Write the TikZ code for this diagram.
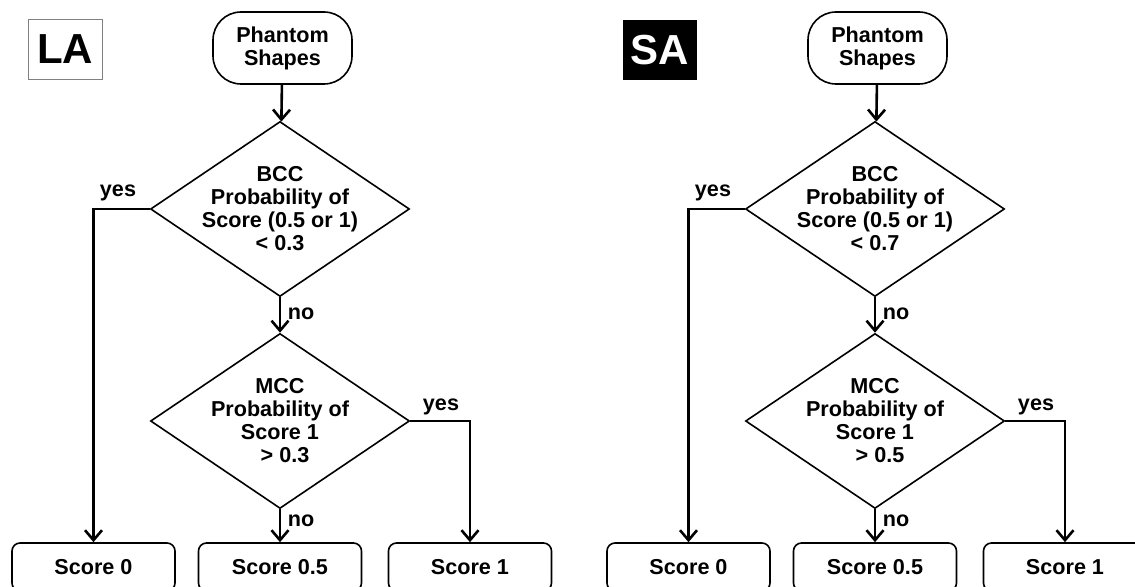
\documentclass[tikz,border=0pt]{standalone}
\usepackage{fontspec}
\setmainfont{Liberation Sans}
\usetikzlibrary{shapes.geometric,arrows.meta}

\tikzset{
  txt/.style={font=\fontsize{10.8}{11.5}\selectfont\bfseries},
  terminal/.style={txt, draw, rectangle, rounded corners=14pt, line width=0.8pt, minimum width=69.5pt, minimum height=36pt, align=center},
  decision/.style={draw, diamond, line width=0.8pt, inner sep=0pt, minimum width=129.5pt, minimum height=87.5pt},
  condtext/.style={txt, align=center},
  scorebox/.style={txt, draw, rectangle, rounded corners=4pt, line width=0.8pt, minimum width=81.5pt, minimum height=24pt},
  tagbox/.style={rectangle, minimum width=37pt, minimum height=30pt, font=\fontsize{21}{21}\selectfont\bfseries},
  link/.style={line width=1.3pt, -{Straight Barb[length=5pt,width=8.5pt,line width=1.3pt]}},
  ans/.style={txt}
}

\begin{document}
\begin{tikzpicture}[x=0.5pt,y=-0.5pt]
\useasboundingbox (0,0) rectangle (1135,587);
% LA
\node[tagbox, draw=gray, line width=0.5pt] (tagL) at (65,49.5) {LA};
\node[terminal] (phL) at (282.5,48) {Phantom\\Shapes};
\node[decision, label={[condtext]center:BCC\\Probability of\\Score (0.5 or 1)\\< 0.3}] (bccL) at (280,209) {};
\node[decision, label={[condtext]center:MCC\\Probability of\\Score 1\\\hspace*{5pt}> 0.3}] (mccL) at (280,421) {};
\node[scorebox] (s0L) at (93.5,567) {Score 0};
\node[scorebox] (s05L) at (280,567) {Score 0.5};
\node[scorebox] (s1L) at (470,567) {Score 1};
\node[ans] (yesL1) at (118,193) {yes};
\node[ans] (noL1) at (301,314) {no};
\node[ans] (yesL2) at (441,407) {yes};
\node[ans] (noL2) at (301,521) {no};
\draw[link] (phL) -- (bccL);
\draw[link] (bccL.west) -| (s0L);
\draw[link] (bccL) -- (mccL);
\draw[link] (mccL) -- (s05L);
\draw[link] (mccL.east) -| (s1L);
% SA
\node[tagbox, fill=black, text=white] (tagS) at (660,50.5) {SA};
\node[terminal] (phS) at (877.5,48) {Phantom\\Shapes};
\node[decision, label={[condtext]center:BCC\\Probability of\\Score (0.5 or 1)\\< 0.7}] (bccS) at (875,209) {};
\node[decision, label={[condtext]center:MCC\\Probability of\\Score 1\\\hspace*{5pt}> 0.5}] (mccS) at (875,421) {};
\node[scorebox] (s0S) at (688.5,567) {Score 0};
\node[scorebox] (s05S) at (875,567) {Score 0.5};
\node[scorebox] (s1S) at (1065,567) {Score 1};
\node[ans] (yesS1) at (713,193) {yes};
\node[ans] (noS1) at (896,314) {no};
\node[ans] (yesS2) at (1036,407) {yes};
\node[ans] (noS2) at (896,521) {no};
\draw[link] (phS) -- (bccS);
\draw[link] (bccS.west) -| (s0S);
\draw[link] (bccS) -- (mccS);
\draw[link] (mccS) -- (s05S);
\draw[link] (mccS.east) -| (s1S);
\end{tikzpicture}
\end{document}
